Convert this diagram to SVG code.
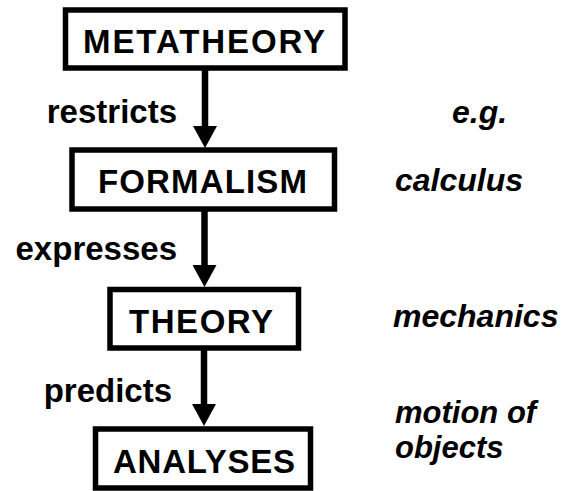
<svg xmlns="http://www.w3.org/2000/svg" width="565" height="491" viewBox="0 0 565 491">
<style>
.box{fill:#fff;stroke:#000;stroke-width:5.5}
.bt{font-family:"Liberation Sans",Arial,sans-serif;font-weight:bold;font-size:33px;fill:#000;text-anchor:middle}
.lbl{font-family:"Liberation Sans",Arial,sans-serif;font-weight:bold;font-size:33px;fill:#000;text-anchor:end}
.eg{font-family:"Liberation Sans",Arial,sans-serif;font-weight:bold;font-style:italic;font-size:32px;fill:#000}
.eg2{font-size:31px}
.conn{stroke:#000;stroke-width:6.5;fill:none}
</style>
<defs>
<marker id="ah" markerUnits="userSpaceOnUse" markerWidth="24" markerHeight="24" refX="4" refY="12" orient="auto">
<path d="M0,0 L22,12 L0,24 z" fill="#000"/>
</marker>
</defs>
<rect width="565" height="491" fill="#fff"/>
<g id="connectors">
<line class="conn" x1="205" y1="68" x2="205" y2="130" marker-end="url(#ah)"/>
<line class="conn" x1="204.5" y1="209" x2="204.5" y2="269" marker-end="url(#ah)"/>
<line class="conn" x1="204" y1="348" x2="204" y2="408" marker-end="url(#ah)"/>
<text class="lbl" x="177" y="123">restricts</text>
<text class="lbl" x="177" y="260">expresses</text>
<text class="lbl" x="172" y="402">predicts</text>
</g>
<g id="metatheory">
<rect class="box" x="65.5" y="10" width="279.5" height="58"/>
<text class="bt" x="204" y="53" textLength="242" lengthAdjust="spacing">METATHEORY</text>
</g>
<g id="formalism">
<rect class="box" x="72" y="150" width="262.5" height="59"/>
<text class="bt" x="202.5" y="193" textLength="209" lengthAdjust="spacing">FORMALISM</text>
</g>
<g id="theory">
<rect class="box" x="110" y="289.5" width="188.5" height="58.5"/>
<text class="bt" x="201" y="333" textLength="144" lengthAdjust="spacing">THEORY</text>
</g>
<g id="analyses">
<rect class="box" x="95.5" y="429" width="215" height="59"/>
<text class="bt" x="204" y="473" textLength="182" lengthAdjust="spacing">ANALYSES</text>
</g>
<g id="examples">
<text class="eg" x="452" y="123">e.g.</text>
<text class="eg" x="395" y="191">calculus</text>
<text class="eg" x="393" y="327">mechanics</text>
<text class="eg eg2" x="395" y="423">motion of</text>
<text class="eg eg2" x="395" y="458">objects</text>
</g>
</svg>
